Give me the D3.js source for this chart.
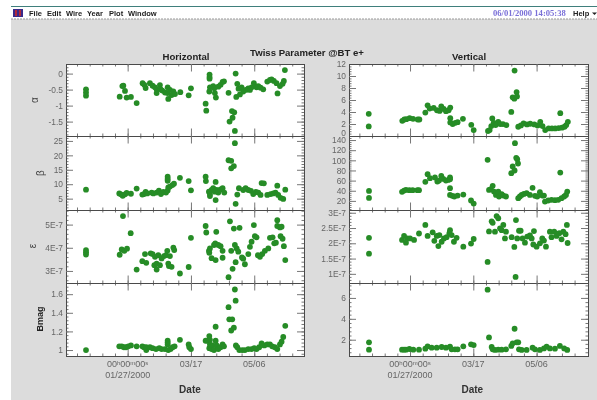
<!DOCTYPE html>
<html><head><meta charset="utf-8">
<script src="https://cdn.jsdelivr.net/npm/d3@7/dist/d3.min.js"></script>
<style>
html,body{margin:0;padding:0;background:#fff;overflow:hidden}
svg{display:block;filter:blur(0.35px)}
text{font-family:"Liberation Sans",Arial,sans-serif}
</style></head><body>
<script>
// Dates are days since 01/27/2000; emittance values are in units of 1E-7.
const hAlphaDays=[-32.9,-32.9,-32.9,-6.3,-4.2,-3.4,-2.1,-.8,2.6,7.1,11.8,13.2,14.2,17.6,19.7,21.6,22.9,22.9,25.5,26.1,27.4,29.5,31.6,31.6,32.1,33.4,34.7,36.1,37.4,41.6,48.2,50,61.6,62.1,64.7,64.7,64.7,65,64.5,67.6,68.4,68.9,69.7,71.6,73.4,75,76.1,79.7,82.4,84.2,82.9,80.5,84.7,85.3,86.6,87.6,85.8,88.7,90,91.3,93.4,95.3,96.6,97.9,99.7,101.8,103.2,105,107.1,110.3,112.4,113.7,115.5,117.6,118.4,120.3,122.4,123.4,124.2];
const hAlpha=[-.49,-.59,-.69,-.72,-.39,-.38,-.54,-.75,-.73,-.92,-.30,-.35,-.45,-.30,-.38,-.43,-.49,-.61,-.36,-.49,-.53,-.59,-.43,-.61,-.79,-.51,-.67,-.56,-.64,-.58,-.68,-.46,-.94,-1.16,-.03,-.11,-.16,-.43,-.56,-.39,-.46,-.61,-.75,-.41,-.35,-.26,-.24,-.60,-1.17,-1.21,-1.38,-1.5,-1.79,0,-.32,-.47,-.73,-.65,-.43,-.56,-.51,-.46,-.51,-.43,-.30,-.43,-.39,-.44,-.49,-.25,-.20,-.18,-.23,-.30,-.62,-.39,-.32,-.23,.11];
const hBetaDays=[-32.9,-6.6,-5.3,-3.9,-2.1,-.8,2.6,7.1,11.6,12.9,14.2,15.5,18.9,20.3,22.9,24.7,26.3,28.2,30.3,31.6,31.6,31.6,31.6,32.1,33.4,35.3,36.6,41.3,48.2,50,61.6,61.8,64.2,65,65,66.3,67.6,69.5,69.5,68.9,70.3,71.6,73.4,75,76.3,79.7,81.8,81.8,83.9,84.7,85.3,86.6,87.9,91.3,93.2,95.3,97.4,99.2,101.3,103.2,105,105.8,107.6,110.3,112.9,115,116.8,118.2,118.9,120.8,122.9,124.5];
const hBeta=[8.1,6.8,6.5,6,6.5,7,6.7,8.5,6.4,6.6,7.3,6.8,7.1,6.8,7.1,7.8,6.6,7.3,7.1,7.8,12.6,11.8,11.2,8.9,9.2,9.7,10.2,12.2,11.1,7.9,12.6,11.1,7.4,6.6,5.9,8,8.6,10.8,4.5,7.4,8,7.1,8.2,8.6,7.1,18.3,18.1,15.5,16.3,24.2,3.2,6.4,8.6,8,8.6,8,7.7,6.6,7.3,7.1,6.3,10.4,10.3,6.3,6.6,6.8,7.1,9.5,6.3,5.3,4.9,8.1];
const hEmitDays=[-32.9,-32.9,-32.9,-6.3,-4.7,-2.6,-.5,-3.7,2.4,7.1,11.6,13.7,14.7,18.2,19.7,21.6,21.1,22.9,22.9,24.2,25.5,26.8,28.7,30.3,31.3,32.1,33.4,32.6,34.7,36.1,36.8,41.3,48.2,50,61.6,62.1,64.2,65,64.5,66.3,68.2,69.5,70,69.2,71.6,73.4,75,75,79.7,80.8,81.8,82.9,83.9,84.7,85.3,86.1,87.4,88.4,90.3,92.6,91.3,95.3,96.6,97.9,99.7,100.5,101.8,102.9,104.5,106.3,108.4,111.1,112.4,114.5,115.8,117.1,118.2,118.2,120.3,121.6,120.8,122.4,123.4,124.5];
const hEmit=[3.9,3.81,3.71,3.7,3.93,3.87,3.96,5.37,4.63,3.06,3.42,3.73,3.35,3.76,3.73,3.61,3.25,3.32,3.06,3.68,3.25,3.54,3.64,3.68,3.87,3.32,3.64,3.21,3.18,4.01,3.9,2.89,3.17,4.43,4.94,4.66,3.87,3.97,3.78,3.55,4.12,3.47,4.69,4.19,4.12,4.07,3.87,3.57,2.73,5.14,3.87,3.09,4.83,4.12,3.38,3.97,3.83,4.86,3.58,3.29,3.53,3.73,4.04,4.26,4.98,4.5,4.45,3.68,3.61,3.73,3.87,3.97,4.43,4.45,4.19,4.22,5.19,4.94,4.88,4.91,4.5,4.39,4.07,3.47];
const hBmagDays=[-32.9,-6.6,-4.7,-2.9,-1.3,.5,2.6,7.1,11.6,12.9,14.7,14.7,17.6,19.7,22.4,25,26.8,29.5,31.6,31.6,31.6,32.1,33.9,35.5,37.1,41.3,48.2,48.7,50,61.6,63.2,64.5,64.5,65,65,66.3,67.1,68.2,69.5,69.5,70.3,71.6,73.4,75,76.1,79.7,80.3,81.8,82.6,83.9,84.7,85.3,85.5,86.6,88.2,90.5,92.6,95.3,97.9,100,101.8,103.9,105.8,107.9,110.3,112.4,114.2,116.3,118.2,120.3,121.6,122.9,124.5];
const hBmag=[1,1.04,1.04,1.03,1.03,1.04,1.05,1.04,1.04,1.03,1,1.03,1.03,1.02,1.01,1.02,1.01,1.01,1.1,1.08,1.06,1,1.01,1.03,1.04,1.11,1.06,1.03,1.01,1.1,1.1,1.15,1.02,1.11,1.06,1.01,1.05,1,1.25,1.1,1.05,1.01,1.03,1.06,1.04,1.46,1.33,1.21,1.33,1.24,1.65,1.53,1.05,1.03,1,1,1,1.01,1.01,1.02,1.01,1.03,1.07,1.05,1.06,1.06,1.04,1.03,1.01,1.06,1.09,1.14,1.26];
const vAlphaDays=[-32.6,-32.6,-6.1,-4.5,-2.9,-.3,2.4,6.1,7.4,12.1,13.9,15.5,18.7,21.3,23.4,24.7,26.6,28.4,30.5,31.8,31.8,31.8,33.7,35.8,37.6,41.8,48.4,50.3,61.6,62.9,64.2,65,66.1,67.6,69.7,71.3,73.4,76.1,80,81.1,82.4,82.6,84.2,84.5,85.5,87.6,89.7,92.4,95,98.2,100.8,102.9,104.7,106.8,109.5,112.1,114.7,117.4,118.7,120,122.1,123.4,124.7];
const vAlpha=[3.69,1.6,2.53,2.75,2.81,2.97,2.86,2.75,2.75,3.91,5.12,4.57,4.68,4.29,4.18,4.95,4.51,4.13,4.29,4.73,2.97,2.26,1.98,2.2,2.31,2.86,1.87,.99,.83,.99,1.65,2.92,2.2,1.82,2.37,1.98,1.98,1.82,4.02,6.44,6.22,10.9,7.32,6.6,1.54,1.76,2.09,1.93,2.04,1.93,1.76,2.37,1.65,.99,1.27,1.27,1.27,1.32,3.8,1.38,1.54,1.82,2.37];
const vBetaDays=[-32.4,-32.4,-6.3,-4.7,-3.2,-.5,2.1,5.8,7.1,12.1,13.9,15.8,19.7,21.6,22.9,24.7,26.3,28.4,30.3,31.6,31.6,31.6,31.6,33.4,35,37.6,42.1,48.2,50.3,61.3,62.4,63.9,65.3,66.3,67.9,69.7,70.3,72.4,73.7,75.8,80,81.1,82.6,82.9,83.9,84.7,85.3,85.5,86.8,88.2,90,92.1,94.7,96.8,98.7,100.5,102.6,104.5,105.8,106.6,109.2,111.8,114.5,117.1,118.7,119.7,121.8,123.2,124.2];
const vBeta=[39.7,25.9,37.8,40.4,41.7,41.1,41.1,41.1,41.1,57.5,72.6,64.7,66.1,58.2,60.1,69.3,63.4,60.1,61.4,66.1,62.8,45,31.8,29.9,28.6,30.5,32.5,20.7,14.7,100.9,41.7,43,49.6,38.4,31.8,38.4,28.6,33.2,30.5,28.6,74.6,87.8,79.9,133.8,104.9,102.2,93.7,25.3,28.6,31.8,33.8,35.1,31.8,45.7,29.9,28.6,37.1,30.5,30.5,18.7,20.7,22,21.3,22,75.9,25.3,28.6,31.8,38.4];
const vEmitDays=[-32.4,-32.4,-6.3,-4.7,-3.2,-2.1,0,3.2,7.1,12.1,13.9,17.9,19.2,21.1,22.4,23.2,25,26.8,28.9,31.1,31.6,32.9,34.7,36.8,42.1,48.2,50.3,61.3,62.4,64.5,65.3,67.1,68.4,69.7,71.1,72.4,73.7,75,75.8,80.3,82.4,83.4,83.7,84.7,86.1,87.4,88.9,90.8,92.6,94.7,96.1,97.9,97.4,100,102.6,104.5,105.8,107.4,110.5,111.8,113.9,115.8,117.9,119.7,121.1,122.9,123.9,124.5];
const vEmit=[2.18,1.66,2.11,2.24,2.02,2.16,2.16,2.11,2.32,2.6,2.24,2.36,2.08,2.24,1.91,2.27,2.05,2.16,2.2,2.33,2.43,2.27,2.05,2.18,1.89,1.99,2.14,1.39,2.39,2.72,2.67,2.38,2.89,2.82,2.49,2.43,2.6,2.16,2.38,2.2,1.88,.9,2.76,2.16,2.41,2.41,2.16,2.02,2.22,2.26,2.16,2.4,1.96,1.89,2,2.16,2.09,1.89,2.38,2.2,2.38,2.24,2.33,2.13,2.38,2.3,2.6,2.01];
const vBmagDays=[-32.4,-32.4,-6.3,-4.7,-3.2,-.5,2.6,7.1,12.1,13.9,17.1,21.1,25,28.4,31.6,32.9,35.5,37.6,42.1,48.2,50.3,61.3,62.4,64.5,65.3,67.1,69.7,72.4,75.8,80,81.1,82.6,84.2,85.5,86.1,88.2,92.1,96.8,98.7,102.6,105.8,107.9,110.5,114.5,118.4,121.8,124.2];
const vBmag=[1.75,1.05,1.05,1.05,1.05,1.11,1.05,1.05,1.14,1.37,1.24,1.24,1.3,1.24,1.33,1.08,1.08,1.08,1.37,1.56,1.49,6.79,2.22,1.3,1.08,1.02,1.05,1.05,1.08,1.4,1.65,3.05,1.75,1.75,1.08,1.02,1.02,1.24,1.08,1.02,1.17,1.33,1.17,1.14,1.4,1.17,1.02];

const majorDays=[0,50,100], minorDays=d3.range(-40,140,10);
const dateLabels=["01/27/2000","03/17","05/06"];
const hAlphaTicks=[0,-.5,-1,-1.5], hBetaTicks=[5,10,15,20,25], hEmitTicks=[3,4,5], hBmagTicks=[1,1.2,1.4,1.6];
const vAlphaTicks=[0,2,4,6,8,10,12], vBetaTicks=[20,40,60,80,100,120,140], vEmitTicks=[1,1.5,2,2.5,3], vBmagTicks=[2,4,6];
const emitLabel=v=>v+"E-7";

const W=597,H=400;
const svg=d3.select("body").append("svg").attr("width",W).attr("height",H);
svg.append("rect").attr("x",11).attr("y",19).attr("width",W-11).attr("height",H-19).attr("fill","#dcdcdc");
svg.append("line").attr("x1",11).attr("x2",W).attr("y1",6.5).attr("y2",6.5).attr("stroke","#3f7f7c").attr("stroke-width",1);
svg.append("line").attr("x1",11).attr("x2",W).attr("y1",19).attr("y2",19).attr("stroke","#999").attr("stroke-dasharray","2 1");

// menu bar
const ic=svg.append("g");
ic.append("rect").attr("x",13).attr("y",9).attr("width",10).attr("height",8).attr("fill","#3a2a8a");
ic.append("rect").attr("x",15).attr("y",10).attr("width",2).attr("height",6).attr("fill","#b02a3a");
ic.append("rect").attr("x",19).attr("y",10).attr("width",2).attr("height",6).attr("fill","#b02a3a");
const menu=[["File",29],["Edit",47],["Wire",66],["Year",87],["Plot",109],["Window",128]];
svg.selectAll(".m").data(menu).join("text").attr("x",d=>d[1]).attr("y",15.5)
  .attr("font-size",7.5).attr("font-weight","bold").attr("fill","#222").text(d=>d[0]);
svg.append("text").attr("x",493).attr("y",15.5).style("font-family","Liberation Serif")
  .attr("font-size",8.6).attr("font-weight","bold").attr("fill","#7a70d8").text("06/01/2000 14:05:38");
svg.append("text").attr("x",573).attr("y",15.5).attr("font-size",7.5).attr("font-weight","bold").attr("fill","#222").text("Help");
svg.append("path").attr("d","M592 12.5h5l-2.5 2.5z").attr("fill","#222");

// titles
svg.append("text").attr("x",307).attr("y",55.5).attr("text-anchor","middle").attr("font-size",9.6).attr("font-weight","bold").attr("fill","#222").text("Twiss Parameter @BT e+");
svg.append("text").attr("x",186).attr("y",60).attr("text-anchor","middle").attr("font-size",9.6).attr("font-weight","bold").attr("fill","#222").text("Horizontal");
svg.append("text").attr("x",469).attr("y",60).attr("text-anchor","middle").attr("font-size",9.6).attr("font-weight","bold").attr("fill","#222").text("Vertical");

const rows=[[64,136],[136,210],[210,283],[283,356]];
const columns=[
 {x:[66,304],dom:[-48.7,139.3],panels:[
  {d:hAlphaDays,v:hAlpha,dom:[-1.95,.3],t:hAlphaTicks,m:.1,title:"α",tx:38,ty:100,f:d=>d},
  {d:hBetaDays,v:hBeta,dom:[1.07,26.7],t:hBetaTicks,m:1,title:"β",tx:44,ty:173,f:d=>d},
  {d:hEmitDays,v:hEmit,dom:[2.48,5.63],t:hEmitTicks,m:.2,title:"ε",tx:36,ty:246,f:emitLabel},
  {d:hBmagDays,v:hBmag,dom:[.936,1.72],t:hBmagTicks,m:.04,title:"Bmag",tx:43,ty:319,bold:true,f:d=>d===1?"1":d3.format(".1f")(d)}]},
 {x:[349,588],dom:[-48.2,140.6],panels:[
  {d:vAlphaDays,v:vAlpha,dom:[0,12],t:vAlphaTicks,m:.4,f:d=>d,nudge:true},
  {d:vBetaDays,v:vBeta,dom:[2,148],t:vBetaTicks,m:4,f:d=>d},
  {d:vEmitDays,v:vEmit,dom:[.7,3.09],t:vEmitTicks,m:.1,f:emitLabel},
  {d:vBmagDays,v:vBmag,dom:[.44,7.43],t:vBmagTicks,m:.4,f:d=>d}]}
];

function styleAxis(g,labels){
  g.select(".domain").attr("stroke","#4a4a4a").attr("stroke-width",1);
  g.selectAll(".tick line").attr("stroke","#777").attr("stroke-width",1);
  g.selectAll(".tick text").attr("fill","#666").attr("font-size",8.4).style("font-family","'Liberation Sans',Arial,sans-serif");
  if(!labels) g.selectAll(".tick text").remove();
  return g;
}
// white plot areas go under every axis
columns.forEach(col=>svg.append("rect").attr("x",col.x[0]).attr("y",rows[0][0])
  .attr("width",col.x[1]-col.x[0]).attr("height",rows[3][1]-rows[0][0]).attr("fill","#fff"));

columns.forEach(col=>{
  const x=d3.scaleLinear().domain(col.dom).range(col.x);
  col.panels.forEach((p,i)=>{
    const [top,bot]=rows[i];
    const y=d3.scaleLinear().domain(p.dom).range([bot,top]);
    const lo=Math.ceil(p.dom[0]/p.m-1e-9), hi=Math.floor(p.dom[1]/p.m+1e-9);
    const minor=d3.range(lo,hi+1).map(k=>+(k*p.m).toFixed(4));
    const g=svg.append("g");
    const ax=(gen,tx,ty,labels)=>styleAxis(g.append("g").attr("transform",`translate(${tx},${ty})`).call(gen),labels);
    ax(d3.axisLeft(y).tickValues(minor).tickSize(-2.5).tickFormat(""),col.x[0],0,false);
    ax(d3.axisRight(y).tickValues(minor).tickSize(-2.5).tickFormat(""),col.x[1],0,false);
    const la=ax(d3.axisLeft(y).tickValues(p.t).tickSize(-7).tickPadding(3).tickFormat(p.f),col.x[0],0,true);
    if(p.nudge) la.selectAll(".tick text").filter(d=>d===0).attr("dy","-0.1em");
    ax(d3.axisRight(y).tickValues(p.t).tickSize(-7).tickFormat(""),col.x[1],0,false);
    ax(d3.axisTop(x).tickValues(minorDays).tickSize(-2.5).tickFormat(""),0,top,false);
    ax(d3.axisBottom(x).tickValues(minorDays).tickSize(-2.5).tickFormat(""),0,bot,false);
    ax(d3.axisTop(x).tickValues(majorDays).tickSize(-7.5).tickFormat(""),0,top,false);
    ax(d3.axisBottom(x).tickValues(majorDays).tickSize(-7.5).tickFormat(""),0,bot,false);
    g.selectAll("circle").data(p.d.map((d,k)=>[d,p.v[k]])).join("circle")
      .attr("cx",d=>x(d[0])).attr("cy",d=>y(d[1])).attr("r",2.9).attr("fill","#268c26");
    if(p.title){
      svg.append("text").attr("transform",`translate(${p.tx},${p.ty}) rotate(-90)`).attr("text-anchor","middle")
        .attr("font-size",p.bold?9:10).attr("font-weight",p.bold?"bold":"normal").attr("fill",p.bold?"#222":"#444").text(p.title);
    }
  });
  const b=svg.append("g");
  majorDays.forEach((d,k)=>{
    if(k===0){
      const t=b.append("text").attr("x",x(d)).attr("y",367).attr("text-anchor","middle").attr("font-size",9).attr("fill","#666");
      ["00","h","00","m","00","s"].forEach((s,j)=>t.append("tspan").text(s)
        .attr("font-size",j%2?6:9).attr("dy",j===0?0:(j%2?-2.5:2.5)));
      b.append("text").attr("x",x(d)).attr("y",377.5).attr("text-anchor","middle").attr("font-size",9).attr("fill","#666").text(dateLabels[k]);
    } else {
      b.append("text").attr("x",x(d)).attr("y",367).attr("text-anchor","middle").attr("font-size",9).attr("fill","#666").text(dateLabels[k]);
    }
  });
  b.append("text").attr("x",(x(0)+x(100))/2-1).attr("y",393).attr("text-anchor","middle").attr("font-size",10).attr("font-weight","bold").attr("fill","#333").text("Date");
});
</script>
</body></html>
